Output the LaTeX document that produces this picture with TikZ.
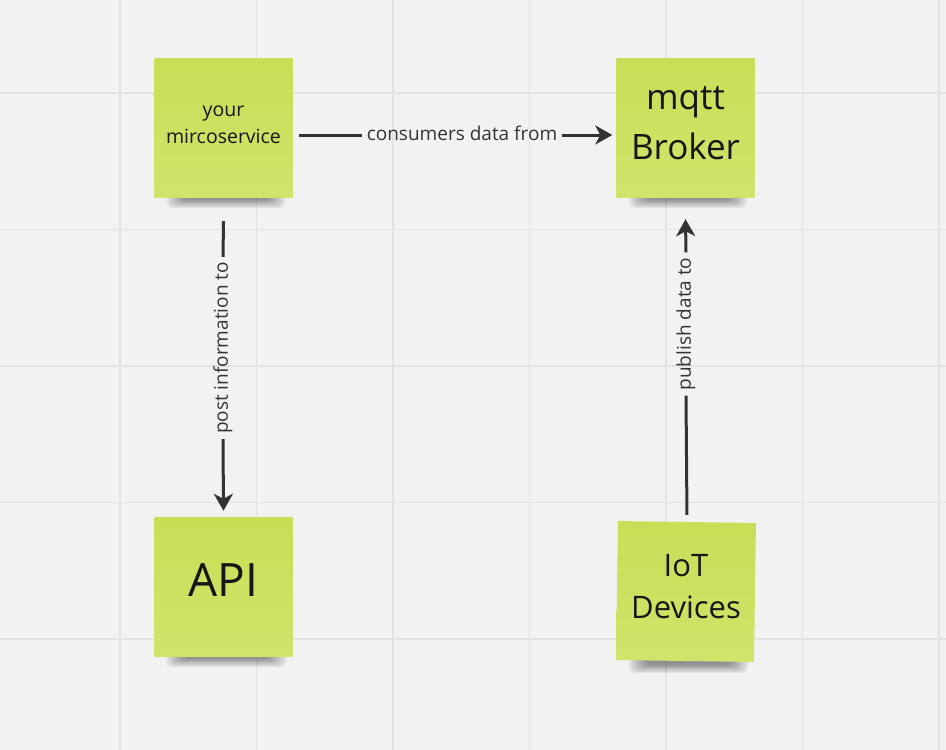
\documentclass[tikz,border=0pt]{standalone}
\usepackage{fontspec}
\setmainfont{Open Sans}
\usetikzlibrary{arrows.meta}
\definecolor{bg}{HTML}{F2F2F2}
\definecolor{gridc}{HTML}{E2E2E2}
\definecolor{notetop}{HTML}{C9DE57}
\definecolor{notebot}{HTML}{D1E36B}
\definecolor{ink}{HTML}{161616}
\definecolor{connc}{HTML}{333333}
\newcommand\noteshadow[3]{% left x, right x, bottom y
  \foreach \i in {0,...,7}{
    \fill[black, opacity=0.06, rounded corners=5pt]
      (#1+12+2.4*\i, #3-8) rectangle (#2-7-2.4*\i, #3+11-1.2*\i);
  }}
\begin{document}
\begin{tikzpicture}[x=1pt,y=-1pt,
  note/.style={minimum width=138pt, minimum height=139pt, inner sep=0pt,
    top color=notetop, bottom color=notebot},
  notetext/.style={text=ink, align=center, inner sep=0pt},
  link/.style={draw=connc, line width=3pt},
  arrowlink/.style={link, -{Stealth[length=17pt,width=19pt,inset=5pt]}},
  lab/.style={text=connc, font=\fontsize{19}{22}\selectfont, inner xsep=5pt, inner ysep=2pt}
]
\useasboundingbox (0,0) rectangle (946,750);
\fill[bg] (0,0) rectangle (946,750);
% grid
\foreach \gx in {120,256.5,393,529.5,666,802.5,939}
  \draw[gridc, line width=1.2pt] (\gx,0) -- (\gx,750);
\foreach \gy in {93,229.5,366,502.5,639}
  \draw[gridc, line width=1.2pt] (0,\gy) -- (946,\gy);
% shadows
\noteshadow{154.5}{292.5}{197}
\noteshadow{617}{754}{197}
\noteshadow{154}{293}{656}
\noteshadow{617}{755}{662}
% notes
\node[note, label={[notetext, yshift=2.5pt, font=\fontsize{19.5}{27}\selectfont]center:your\\mircoservice}] (ms) at (223.5,127.5) {};
\node[note, label={[notetext, yshift=4.5pt, font=\fontsize{35}{50}\selectfont]center:mqtt\\Broker}] (mq) at (685.5,127.5) {};
\node[note, label={[notetext, yshift=6pt, font=\fontsize{46}{50}\selectfont]center:API}] (api) at (223.5,586.5) {};
\node[note, rotate=-0.8, label={[notetext, yshift=4.5pt, font=\fontsize{31}{42}\selectfont]center:IoT\\Devices}] (iot) at (686,591.5) {};
% labels
\node[lab] (l1) at (462,133) {consumers data from};
\node[lab, rotate=90] (l2) at (223,348) {post information to};
\node[lab, rotate=90] (l3) at (686,324) {publish data to};
% connectors
\draw[link] ([xshift=6pt,yshift=-7.5pt]ms.east) -- (l1.west |- 0,135);
\draw[arrowlink] (l1.east |- 0,135) -- ([xshift=-4pt,yshift=-7.5pt]mq.west);
\draw[link] ([yshift=-24pt]ms.south) -- (l2.east);
\draw[arrowlink] (l2.west) -- ([yshift=6pt]api.north);
\draw[link] ([yshift=7pt]iot.north) -- (l3.west);
\draw[arrowlink] (l3.east) -- ([yshift=-22pt]mq.south);
\end{tikzpicture}
\end{document}
